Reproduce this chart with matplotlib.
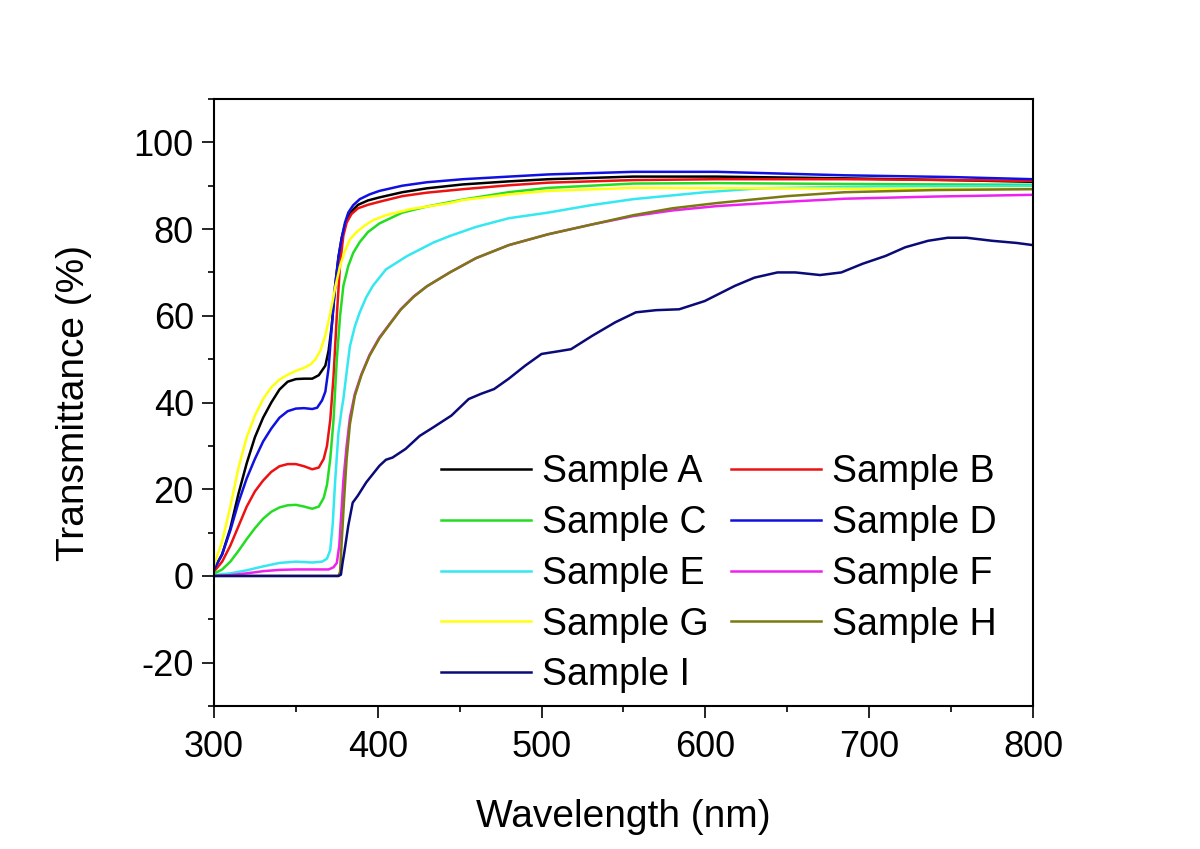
import matplotlib
matplotlib.use("Agg")
import matplotlib.pyplot as plt
from matplotlib.ticker import MultipleLocator

# transmittance spectra (wavelength nm, T %)
wl_a = [300, 305, 310, 315, 320, 325, 330, 335, 340, 345, 350, 355, 360, 364, 368, 370, 372, 374, 376, 378,
        380, 382, 385, 388, 394, 401, 415, 430, 452, 480, 504, 556, 607, 685, 750, 800]
t_a = [1.5, 5, 11, 19, 26, 32, 36.5, 40, 43, 44.8, 45.4, 45.5, 45.5, 46.3, 48.5, 52, 58, 67, 73.5, 78,
       81, 83, 84.5, 85.6, 86.6, 87.3, 88.5, 89.4, 90.3, 91, 91.5, 92.1, 92.1, 91.7, 91.3, 90.9]

wl_b = [300, 305, 310, 315, 320, 325, 330, 335, 340, 345, 350, 355, 360, 364, 367, 369, 371, 373, 375, 377,
        379, 381, 384, 388, 394, 401, 415, 430, 452, 480, 504, 556, 607, 685, 750, 800]
t_b = [1, 3.3, 7, 11.5, 16, 19.5, 22, 24, 25.3, 25.8, 25.8, 25.3, 24.6, 25, 27, 30, 36, 46, 60, 72,
       78.5, 81.5, 83.5, 84.8, 85.6, 86.3, 87.6, 88.4, 89.2, 90.1, 90.7, 91.3, 91.5, 91.5, 91.3, 91.1]

wl_c = [300, 305, 310, 315, 320, 325, 330, 335, 340, 345, 350, 355, 360, 364, 367, 369, 371, 373, 375, 377,
        379, 382, 385, 389, 394, 401, 415, 430, 452, 480, 504, 556, 607, 685, 800]
t_c = [0.5, 1.5, 3.3, 5.8, 8.5, 11, 13.2, 14.8, 15.8, 16.3, 16.4, 16, 15.5, 16, 18, 21, 27, 36, 50, 60,
       66.9, 71.5, 74.5, 77, 79.3, 81.3, 83.8, 85.2, 86.8, 88.5, 89.5, 90.5, 90.6, 90.4, 90.2]

wl_d = [300, 305, 310, 315, 320, 325, 330, 335, 340, 345, 350, 355, 360, 363, 366, 368, 370, 372, 374, 376,
        378, 380, 382, 385, 389, 395, 401, 415, 430, 452, 480, 504, 556, 607, 685, 750, 800]
t_d = [1.5, 5, 10.5, 17, 22.5, 27, 31, 34, 36.5, 38, 38.6, 38.7, 38.5, 38.8, 40.5, 42.5, 48, 58, 67, 73.5,
       78, 81.5, 83.8, 85.5, 86.9, 88, 88.8, 90, 90.8, 91.5, 92.1, 92.6, 93.2, 93.2, 92.4, 92, 91.5]

wl_e = [300, 310, 320, 330, 340, 350, 360, 366, 369, 371, 372.5, 374, 376, 378, 379, 381, 383, 386, 389, 393,
        397, 405, 418, 434, 444, 460, 480, 504, 530, 556, 600, 633, 700, 800]
t_e = [0.2, 0.6, 1.3, 2.2, 3, 3.3, 3.1, 3.3, 4, 6, 12, 22, 33, 38.5, 40.8, 47, 53, 57.5, 60.8, 64.3,
       66.9, 70.7, 73.8, 76.9, 78.4, 80.5, 82.5, 83.8, 85.5, 86.9, 88.5, 89.4, 89.8, 90]

wl_f = [300, 310, 320, 330, 340, 350, 360, 370, 373, 375, 376.5, 377.5, 379, 381, 383, 386, 390, 395, 401, 408,
        414, 422, 430, 444, 460, 480, 504, 530, 556, 580, 607, 650, 685, 740, 800]
t_f = [0, 0.2, 0.6, 1.1, 1.4, 1.5, 1.5, 1.5, 2, 3, 7, 13, 22, 30, 36.5, 42, 46.5, 51, 55, 58.5,
       61.5, 64.5, 66.8, 70, 73.3, 76.3, 78.8, 81, 83, 84.3, 85.3, 86.3, 87, 87.5, 87.9]

wl_g = [300, 305, 310, 315, 320, 325, 330, 335, 340, 345, 350, 355, 359, 362, 365, 368, 371, 374, 377, 380,
        383, 387, 392, 397, 405, 420, 444, 452, 480, 504, 556, 633, 700, 800]
t_g = [2.4, 8, 16, 25, 32, 37, 40.8, 43.5, 45.3, 46.4, 47.3, 48, 48.8, 50, 52, 55.5, 60.5, 66.5, 71.5, 75,
       77.6, 79.3, 80.8, 82, 83.2, 84.6, 86, 86.7, 88, 88.8, 89.5, 89.4, 89.3, 89.3]

wl_h = [300, 376, 377, 378, 379.5, 381, 383, 386, 390, 395, 401, 408, 414, 422, 430, 444, 460, 480, 504, 530,
        556, 580, 607, 650, 685, 740, 800]
t_h = [0, 0, 1, 8, 18, 27, 35, 41.5, 46.3, 50.8, 54.8, 58.4, 61.4, 64.4, 66.8, 70, 73.3, 76.3, 78.8, 81,
       83.2, 84.8, 86, 87.6, 88.5, 89, 89.2]

wl_i = [300, 376, 377.5, 378.5, 379.6, 382, 384.7, 387.8, 393, 401, 405, 409, 417, 425.6, 434, 445, 455.5, 463,
        471, 480, 490, 500, 510, 518, 531, 545, 557.6, 570, 584, 599.6, 618, 630, 644, 655, 670, 683, 696, 710,
        722, 736, 748, 759.5, 775, 790, 800]
t_i = [0, 0, 0.3, 3, 5.5, 11.6, 16.9, 18.5, 21.6, 25.4, 26.8, 27.3, 29.3, 32.3, 34.3, 37, 40.8, 42,
       43.1, 45.5, 48.5, 51.2, 51.8, 52.3, 55.4, 58.5, 60.8, 61.3, 61.5, 63.4, 66.9, 68.8, 70, 70, 69.4, 70, 72, 73.8,
       75.8, 77.3, 78, 78, 77.3, 76.8, 76.3]

labels = ["Sample A", "Sample B", "Sample C", "Sample D", "Sample E",
          "Sample F", "Sample G", "Sample H", "Sample I"]
colors = ["#000000", "#ee1111", "#22dd22", "#1010e0", "#33e8f0",
          "#ee22ee", "#ffff11", "#7a7a10", "#0a0a78"]
series = [(wl_a, t_a), (wl_b, t_b), (wl_c, t_c), (wl_d, t_d), (wl_e, t_e),
          (wl_f, t_f), (wl_g, t_g), (wl_h, t_h), (wl_i, t_i)]

plt.rcParams["font.family"] = ["Liberation Sans", "DejaVu Sans"]
plt.rcParams["axes.unicode_minus"] = False

fig = plt.figure(figsize=(12, 8.49), dpi=100)
ax = fig.add_axes([0.1783, 0.1684, 0.6825, 0.715])

handles = []
for (x, y), c, lab in zip(series, colors, labels):
    (ln,) = ax.plot(x, y, color=c, lw=1.8, label=lab)
    handles.append(ln)

ax.set_xlim(300, 800)
ax.set_ylim(-30, 110)
ax.xaxis.set_major_locator(MultipleLocator(100))
ax.xaxis.set_minor_locator(MultipleLocator(50))
ax.yaxis.set_major_locator(MultipleLocator(20))
ax.yaxis.set_minor_locator(MultipleLocator(10))
ax.tick_params(which="both", direction="out", top=False, right=False, width=1.2, labelsize=26)
ax.tick_params(axis="x", pad=9)
ax.tick_params(axis="y", pad=6)
ax.tick_params(which="major", length=8.5)
ax.tick_params(which="minor", length=4.5)
for sp in ax.spines.values():
    sp.set_linewidth(1.5)

ax.set_xlabel("Wavelength (nm)", fontsize=28, labelpad=24)
ax.set_ylabel("Transmittance (%)", fontsize=28, labelpad=30)

# row-wise legend order, matplotlib fills columns first
order = [0, 2, 4, 6, 8, 1, 3, 5, 7]
ax.legend([handles[i] for i in order], [labels[i] for i in order], ncol=2, frameon=False,
          fontsize=27, loc="upper left", bbox_to_anchor=(0.277, 0.415), borderaxespad=0, borderpad=0,
          handlelength=2.4, handletextpad=0.3, columnspacing=0.6, labelspacing=0.395)

fig.savefig("out.png", dpi=100, facecolor="white")
